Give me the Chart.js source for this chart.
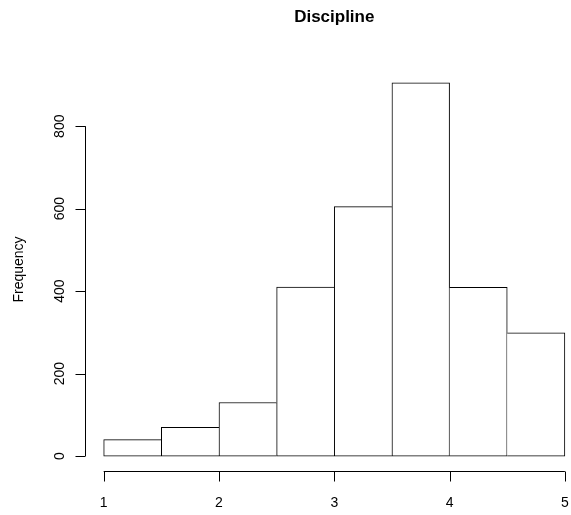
<!DOCTYPE html>
<html>
<head>
<meta charset="utf-8">
<title>Discipline</title>
<script src="https://cdn.jsdelivr.net/npm/chart.js@4.4.1/dist/chart.umd.min.js"></script>
<style>
    html, body { margin: 0; padding: 0; background: #fff; }
    #wrap { width: 571px; height: 515px; position: relative; }
</style>
</head>
<body>
<div id="wrap"><canvas id="hist"></canvas></div>
<script>
// Гистограмма: границы классов и частоты
const breaks = [1, 1.5, 2, 2.5, 3, 3.5, 4, 4.5, 5];
const counts = [40, 70, 130, 410, 605, 905, 409, 299];
const xTicks = [1, 2, 3, 4, 5];
const yTicks = [0, 200, 400, 600, 800];
const titleText = 'Discipline';
const yTitle = 'Frequency';

const FONT = "'Liberation Sans', Arial, Helvetica, sans-serif";

// R-style axes, drawn through the chart's own scales
const rAxes = {
    id: 'rAxes',
    afterDraw(chart) {
        const ctx = chart.ctx;
        const xs = chart.scales.x;
        const ys = chart.scales.y;
        const area = chart.chartArea;
        ctx.save();
        ctx.strokeStyle = '#000';
        ctx.fillStyle = '#000';
        ctx.lineWidth = 1;

        // x axis
        const xAxisY = Math.round(area.bottom) + 0.5;
        ctx.beginPath();
        ctx.moveTo(xs.getPixelForValue(xTicks[0]), xAxisY);
        ctx.lineTo(xs.getPixelForValue(xTicks[xTicks.length - 1]), xAxisY);
        xTicks.forEach(t => {
            const px = Math.round(xs.getPixelForValue(t)) + 0.5;
            ctx.moveTo(px, xAxisY);
            ctx.lineTo(px, xAxisY + 10);
        });
        ctx.stroke();
        ctx.font = '14px ' + FONT;
        ctx.textAlign = 'center';
        ctx.textBaseline = 'alphabetic';
        xTicks.forEach(t => {
            ctx.fillText(String(t), xs.getPixelForValue(t), xAxisY + 35);
        });

        // y axis
        const yAxisX = Math.round(area.left) + 0.5;
        ctx.beginPath();
        ctx.moveTo(yAxisX, ys.getPixelForValue(yTicks[0]));
        ctx.lineTo(yAxisX, ys.getPixelForValue(yTicks[yTicks.length - 1]));
        yTicks.forEach(t => {
            const py = Math.round(ys.getPixelForValue(t)) + 0.5;
            ctx.moveTo(yAxisX, py);
            ctx.lineTo(yAxisX - 10, py);
        });
        ctx.stroke();
        yTicks.forEach(t => {
            ctx.save();
            ctx.translate(yAxisX - 22, ys.getPixelForValue(t));
            ctx.rotate(-Math.PI / 2);
            ctx.fillText(String(t), 0, 0);
            ctx.restore();
        });

        // подпись оси Y
        ctx.save();
        ctx.translate(23, (area.top + area.bottom) / 2);
        ctx.rotate(-Math.PI / 2);
        ctx.fillText(yTitle, 0, 0);
        ctx.restore();

        // заголовок по центру области графика
        ctx.font = 'bold 17px ' + FONT;
        ctx.fillText(titleText, xs.getPixelForValue((breaks[0] + breaks[breaks.length - 1]) / 2), 22);
        ctx.restore();
    }
};

// общая граница двух соседних столбцов рисуется только у более высокого
function skipEdge(c) {
    const i = c.dataIndex;
    const v = counts[i];
    if (i > 0 && counts[i - 1] >= v) return 'left';
    if (i < counts.length - 1 && counts[i + 1] > v) return 'right';
    return false;
}

const yTop = Math.max(...counts);
const bars = counts.map((c, i) => ({ x: (breaks[i] + breaks[i + 1]) / 2, y: c }));

new Chart(document.getElementById('hist').getContext('2d'), {
    type: 'bar',
    data: {
        datasets: [{
            data: bars,
            backgroundColor: '#ffffff',
            borderColor: '#000000',
            borderWidth: 1,
            borderSkipped: skipEdge,
            barPercentage: 1,
            categoryPercentage: 1
        }]
    },
    options: {
        responsive: true,
        maintainAspectRatio: false,
        animation: false,
        devicePixelRatio: 1,
        layout: { padding: { left: 85, right: 0, top: 68, bottom: 44 } },
        plugins: {
            legend: { display: false },
            tooltip: { enabled: false },
            title: { display: false }
        },
        scales: {
            x: {
                type: 'linear',
                display: false,
                offset: false,
                grid: { offset: false },
                min: 0.838,
                max: 5.053
            },
            y: {
                display: false,
                min: -0.04 * yTop,
                max: 1.04 * yTop
            }
        }
    },
    plugins: [rAxes]
});
</script>
</body>
</html>
